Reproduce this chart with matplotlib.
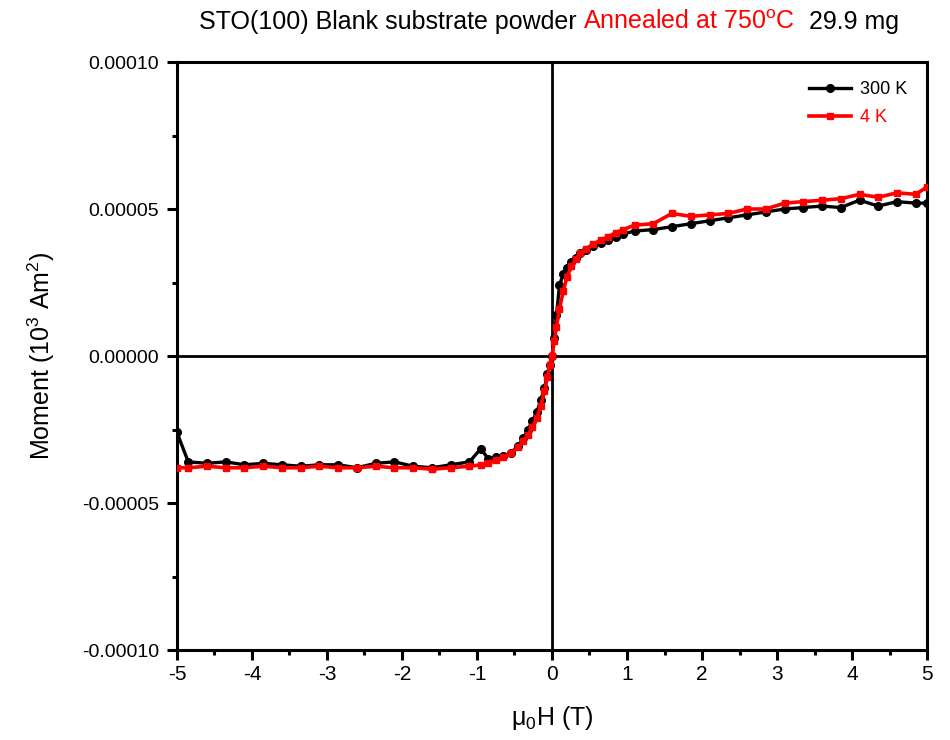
import numpy as np
import matplotlib
matplotlib.use("Agg")
import matplotlib.pyplot as plt
from matplotlib.ticker import MultipleLocator, FormatStrFormatter

plt.rcParams['font.family'] = ['Liberation Sans', 'DejaVu Sans']
plt.rcParams['mathtext.fontset'] = 'custom'
plt.rcParams['mathtext.rm'] = 'Liberation Sans'
plt.rcParams['mathtext.it'] = 'Liberation Sans'

# ----------------------------------------------------------------------
# data (moment in units of 1e-5, field in T)
# ----------------------------------------------------------------------
field = [-5.0, -4.85, -4.6, -4.35, -4.1, -3.85, -3.6, -3.35, -3.1, -2.85,
         -2.6, -2.35, -2.1, -1.85, -1.6, -1.35, -1.1, -0.95, -0.85, -0.75,
         -0.65, -0.55, -0.45, -0.38, -0.32, -0.26, -0.2, -0.15, -0.1, -0.06,
         -0.03, 0.0, 0.03, 0.06, 0.1, 0.15, 0.2, 0.26, 0.32, 0.38,
         0.45, 0.55, 0.65, 0.75, 0.85, 0.95, 1.1, 1.35, 1.6, 1.85,
         2.1, 2.35, 2.6, 2.85, 3.1, 3.35, 3.6, 3.85, 4.1, 4.35,
         4.6, 4.85, 5.0]

m_300K = [-2.6, -3.6, -3.65, -3.6, -3.7, -3.65, -3.7, -3.75, -3.7, -3.7,
          -3.8, -3.65, -3.6, -3.75, -3.8, -3.7, -3.6, -3.15, -3.5, -3.45,
          -3.4, -3.3, -3.05, -2.8, -2.5, -2.2, -1.9, -1.5, -1.1, -0.6,
          -0.3, 0.0, 0.6, 1.4, 2.4, 2.8, 3.0, 3.2, 3.35, 3.5,
          3.6, 3.75, 3.85, 3.95, 4.05, 4.15, 4.25, 4.3, 4.4, 4.5,
          4.6, 4.7, 4.8, 4.9, 5.0, 5.05, 5.1, 5.05, 5.3, 5.1,
          5.25, 5.2, 5.2]

m_4K = [-3.8, -3.8, -3.75, -3.8, -3.8, -3.75, -3.8, -3.8, -3.75, -3.8,
        -3.8, -3.75, -3.8, -3.8, -3.85, -3.8, -3.75, -3.7, -3.65, -3.55,
        -3.45, -3.3, -3.1, -2.9, -2.7, -2.4, -2.1, -1.7, -1.2, -0.7,
        -0.3, 0.0, 0.5, 1.0, 1.6, 2.2, 2.7, 3.05, 3.3, 3.5,
        3.65, 3.8, 3.95, 4.05, 4.2, 4.3, 4.45, 4.5, 4.85, 4.75,
        4.8, 4.85, 5.0, 5.0, 5.2, 5.25, 5.3, 5.35, 5.5, 5.4,
        5.55, 5.5, 5.75]

UNIT = 1e-5

# ----------------------------------------------------------------------
# figure
# ----------------------------------------------------------------------
fig = plt.figure(figsize=(9.5, 7.4), dpi=100)
ax = fig.add_axes([0.1863, 0.1216, 0.7895, 0.7946])

ax.axhline(0, color='black', lw=2.0, zorder=1)
ax.axvline(0, color='black', lw=2.0, zorder=1)

ax.plot(field, np.array(m_300K) * UNIT, color='black', lw=2.4,
        marker='o', ms=5.5, label='300 K', zorder=3)
ax.plot(field, np.array(m_4K) * UNIT, color='red', lw=2.6,
        marker='s', ms=5, label='4 K', zorder=4)

ax.set_xlim(-5, 5)
ax.set_ylim(-0.0001, 0.0001)
ax.xaxis.set_major_locator(MultipleLocator(1))
ax.xaxis.set_minor_locator(MultipleLocator(0.5))
ax.yaxis.set_major_locator(MultipleLocator(0.00005))
ax.yaxis.set_minor_locator(MultipleLocator(0.000025))
ax.yaxis.set_major_formatter(FormatStrFormatter('%.5f'))
ax.xaxis.set_major_formatter(FormatStrFormatter('%d'))

for s in ax.spines.values():
    s.set_linewidth(2.2)
ax.tick_params(which='major', direction='out', length=7, width=2.2,
               top=False, right=False)
ax.tick_params(which='minor', direction='out', length=3.5, width=2.2,
               top=False, right=False)
ax.tick_params(axis='x', labelsize=15, pad=4)
ax.tick_params(axis='y', labelsize=14, pad=6)

ax.set_xlabel(r'$\mathregular{\mu_0}$H (T)', fontsize=18, labelpad=14)
ax.set_ylabel(r'Moment (10$\mathregular{^{3}}$ Am$\mathregular{^2}$)',
              fontsize=18, labelpad=18)

leg = ax.legend(loc='upper right', frameon=False, fontsize=13,
                handlelength=2.3, handletextpad=0.5, labelspacing=0.6,
                bbox_to_anchor=(0.995, 0.995))
for txt, c in zip(leg.get_texts(), ['black', 'red']):
    txt.set_color(c)

# title in three colored pieces, centred over 163..935 px
parts = [('STO(100) Blank substrate powder ', 'black'),
         ('Annealed at 750$\\mathregular{^o}$C', 'red'),
         ('  29.9 mg', 'black')]
fig.canvas.draw()
renderer = fig.canvas.get_renderer()
texts = []
for s, c in parts:
    texts.append(fig.text(0, 1 - 22 / 740, s, color=c, fontsize=18,
                          va='center', ha='left'))
widths = [t.get_window_extent(renderer=renderer).width for t in texts]
x_px = (163 + 935) / 2 - sum(widths) / 2
for t, w in zip(texts, widths):
    t.set_x(x_px / 950)
    x_px += w

fig.savefig('out.png', dpi=100)
